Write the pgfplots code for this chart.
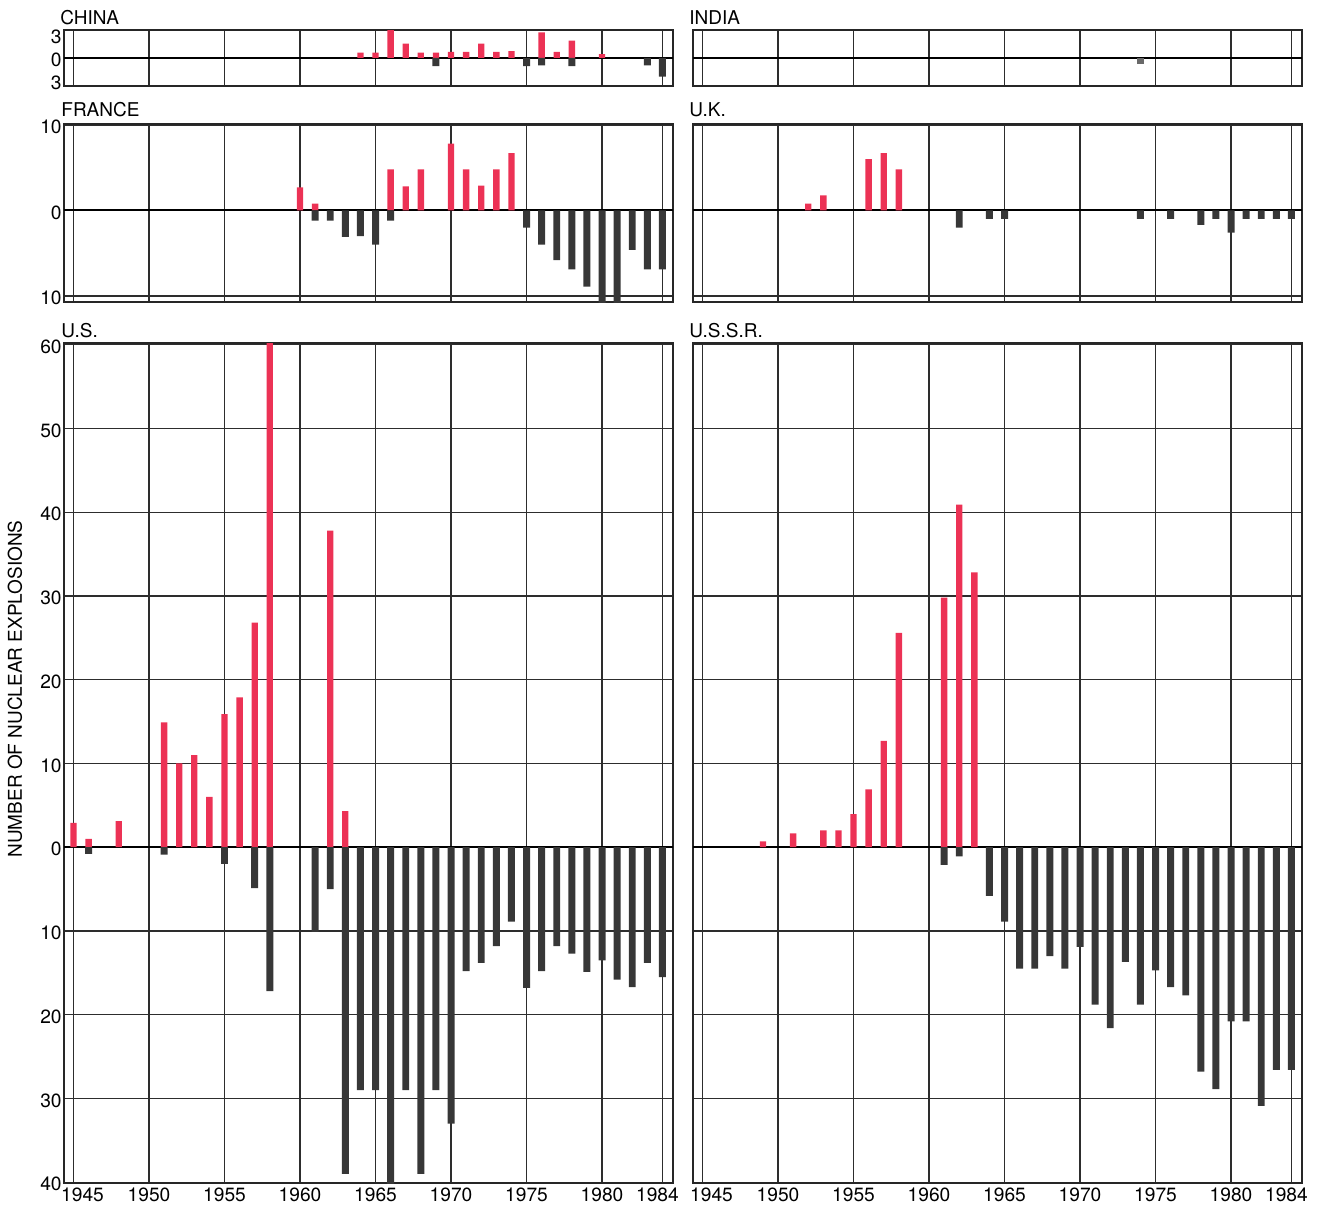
\documentclass[border=0pt]{standalone}
\usepackage{pgfplots}
\pgfplotsset{compat=1.18}
\usepackage{fontspec}
\setmainfont{TeX Gyre Heros}
\definecolor{atm}{RGB}{236,50,85}
\definecolor{ug}{RGB}{55,55,55}
\definecolor{gridc}{RGB}{45,45,45}

\pgfplotsset{
  panel/.style={
    scale only axis,
    anchor=north west,
    width=304.5pt,
    xmin=1944.37, xmax=1984.7,
    xtick={1945,1950,1955,1960,1965,1970,1975,1980,1984},
    xticklabels={},
    xmajorgrids, ymajorgrids,
    major grid style={gridc, line width=0.65pt},
    axis line style={black!85, line width=1pt},
    major tick length=0pt,
    tick style={draw=none},
    tick label style={font=\fontsize{9.6}{11}\selectfont, text=black},
    yticklabel style={inner sep=1pt, yshift=-1pt},
    xticklabel style={inner sep=2pt},
    /pgf/number format/assume math mode=true,
    extra y ticks={0}, extra y tick labels={},
    extra y tick style={grid=major, major grid style={black, line width=1pt}},
    clip=true,
  },
  yearlabels/.style={
    xticklabels={\hspace*{9pt}1945,1950,1955,1960,1965,1970,1975,1980,1984\hspace*{5pt}},
  },
  atmbar/.style={ybar, bar width=0.42, bar shift=0pt, fill=atm, draw=none},
  ugbar/.style={ybar, bar width=0.46, bar shift=0pt, fill=ug, draw=none},
}

\begin{document}
\begin{tikzpicture}
\useasboundingbox (0,0) rectangle (660.5pt,-602.5pt);

% ---------------- CHINA ----------------
\begin{axis}[panel, at={(32pt,-15pt)}, height=28pt,
  ymin=-3.75, ymax=3.7, ytick={-3,0,3}, yticklabels={3,0,3}, ymajorgrids=false]
\addplot[atmbar] coordinates {(1964,0.7)(1965,0.7)(1966,4)(1967,1.9)(1968,0.7)(1969,0.7)(1970,0.8)(1971,0.8)(1972,1.9)(1973,0.8)(1974,0.9)(1976,3.4)(1977,0.8)(1978,2.3)(1980,0.5)};
\addplot[ugbar] coordinates {(1969,-1.1)(1975,-1.1)(1976,-1)(1978,-1.1)(1983,-1)(1984,-2.5)};
\end{axis}

% ---------------- INDIA ----------------
\begin{axis}[panel, at={(346.5pt,-15pt)}, height=28pt,
  ymin=-3.75, ymax=3.7, ytick={0}, yticklabels={}, ymajorgrids=false]
\addplot[ugbar, fill=ug!75] coordinates {(1974,-0.8)};
\end{axis}

% ---------------- FRANCE ----------------
\begin{axis}[panel, at={(32pt,-62pt)}, height=89pt,
  ymin=-10.7, ymax=10.1, ytick={-10,0,10}, yticklabels={10,0,10}]
\addplot[atmbar] coordinates {(1960,2.7)(1961,0.8)(1966,4.8)(1967,2.8)(1968,4.8)(1970,7.8)(1971,4.8)(1972,2.9)(1973,4.8)(1974,6.7)};
\addplot[ugbar] coordinates {(1961,-1.2)(1962,-1.2)(1963,-3.1)(1964,-3)(1965,-4)(1966,-1.2)(1975,-2)(1976,-4)(1977,-5.8)(1978,-6.9)(1979,-8.9)(1980,-13)(1981,-12)(1982,-4.6)(1983,-6.9)(1984,-6.9)};
\end{axis}

% ---------------- U.K. ----------------
\begin{axis}[panel, at={(346.5pt,-62pt)}, height=89pt,
  ymin=-10.7, ymax=10.1, ytick={-10,0,10}, yticklabels={}]
\addplot[atmbar] coordinates {(1952,0.8)(1953,1.75)(1956,6)(1957,6.7)(1958,4.8)};
\addplot[ugbar] coordinates {(1962,-2)(1964,-1)(1965,-1)(1974,-1)(1976,-1)(1978,-1.7)(1979,-1)(1980,-2.6)(1981,-1)(1982,-1)(1983,-1)(1984,-1)};
\end{axis}

% ---------------- U.S. ----------------
\begin{axis}[panel, yearlabels, at={(32pt,-171.5pt)}, height=420pt,
  ymin=-40.1, ymax=60.2, ytick={-40,-30,-20,-10,0,10,20,30,40,50,60},
  yticklabels={40,30,20,10,0,10,20,30,40,50,60}]
\addplot[atmbar] coordinates {(1945,2.9)(1946,1)(1948,3.1)(1951,14.9)(1952,10)(1953,11)(1954,6)(1955,15.9)(1956,17.9)(1957,26.8)(1958,62)(1962,37.8)(1963,4.3)};
\addplot[ugbar] coordinates {(1946,-0.8)(1951,-0.9)(1955,-2)(1957,-4.9)(1958,-17.2)(1961,-10.1)(1962,-5)(1963,-39)(1964,-29)(1965,-29)(1966,-44)(1967,-29)(1968,-39)(1969,-29)(1970,-33)(1971,-14.8)(1972,-13.8)(1973,-11.8)(1974,-8.9)(1975,-16.8)(1976,-14.8)(1977,-11.8)(1978,-12.7)(1979,-14.9)(1980,-13.5)(1981,-15.8)(1982,-16.7)(1983,-13.8)(1984,-15.5)};
\end{axis}

% ---------------- U.S.S.R. ----------------
\begin{axis}[panel, yearlabels, at={(346.5pt,-171.5pt)}, height=420pt,
  ymin=-40.1, ymax=60.2, ytick={-40,-30,-20,-10,0,10,20,30,40,50,60},
  yticklabels={}]
\addplot[atmbar] coordinates {(1949,0.7)(1951,1.65)(1953,2)(1954,2)(1955,3.95)(1956,6.9)(1957,12.7)(1958,25.6)(1961,29.8)(1962,40.9)(1963,32.8)};
\addplot[ugbar] coordinates {(1961,-2.1)(1962,-1.1)(1964,-5.8)(1965,-8.9)(1966,-14.5)(1967,-14.5)(1968,-13)(1969,-14.5)(1970,-11.9)(1971,-18.8)(1972,-21.6)(1973,-13.7)(1974,-18.8)(1975,-14.7)(1976,-16.7)(1977,-17.7)(1978,-26.8)(1979,-28.9)(1980,-20.8)(1981,-20.8)(1982,-30.9)(1983,-26.6)(1984,-26.6)};
\end{axis}

% ---------------- titles ----------------
\begin{scope}[every node/.style={anchor=base west, inner sep=0pt, font=\fontsize{9.5}{11}\selectfont}]
\node at (30pt,-12pt) {CHINA};
\node at (344.5pt,-12pt) {INDIA};
\node at (30.5pt,-58pt) {FRANCE};
\node at (344.5pt,-58pt) {U.K.};
\node at (30.5pt,-168.5pt) {U.S.};
\node at (344.5pt,-168.5pt) {U.S.S.R.};
\end{scope}
\node[rotate=90, inner sep=0pt, font=\fontsize{9.5}{11}\selectfont] at (7.5pt,-344.5pt) {NUMBER OF NUCLEAR EXPLOSIONS};
\end{tikzpicture}
\end{document}
